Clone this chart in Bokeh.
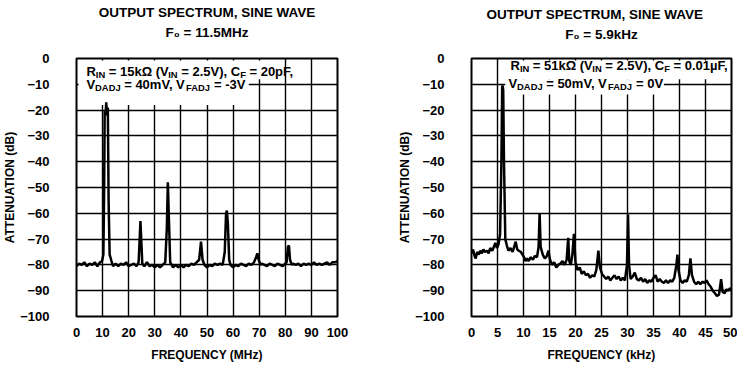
from bokeh.plotting import figure
from bokeh.models import Range1d, Label, Title, FixedTicker, LinearAxis
from bokeh.layouts import row
from bokeh.embed import file_html
from bokeh.resources import INLINE

FONT = "Liberation Sans"

# ---------------- data ----------------
y_ticks = [0, -10, -20, -30, -40, -50, -60, -70, -80, -90, -100]
left_x_ticks = [0, 10, 20, 30, 40, 50, 60, 70, 80, 90, 100]
right_x_ticks = [0, 5, 10, 15, 20, 25, 30, 35, 40, 45, 50]

left_freq = [0, 1, 2, 3, 4, 5, 6, 7, 8, 9, 9.8, 10.3, 10.6, 10.8, 11.1, 11.4, 11.7, 12.0, 12.3, 12.7,
             13.4, 14, 15, 16, 17, 18, 19, 20, 21, 22, 23, 23.8, 24.2, 24.5, 24.8, 25.2, 26, 27, 28,
             29, 30, 31, 32, 33, 34, 34.6, 35.0, 35.4, 35.9, 37, 38, 39, 40, 41, 42, 43, 44, 45, 46,
             47, 47.7, 48.3, 49, 50, 51, 52, 53, 54, 55, 56, 56.8, 57.3, 57.6, 58.0, 58.5, 59, 60,
             61, 62, 63, 64, 65, 66, 67, 68, 68.8, 69.3, 69.8, 70.5, 71, 72, 73, 74, 75, 76, 77, 78,
             79, 80.5, 81.0, 81.4, 81.8, 82.5, 83, 84, 85, 86, 87, 88, 89, 90, 91, 92, 93, 94, 95,
             96, 97, 98, 99, 100]
left_db = [-80.5, -79.5, -80.0, -79.0, -80.5, -79.5, -80.0, -79.0, -80.5, -79.0, -78.5, -76, -50,
           -20, -22, -17, -22, -19, -55, -76, -78.5, -80.5, -79.5, -80.5, -79.5, -80, -79, -80.5,
           -80, -79.5, -80.5, -79, -70, -63, -70, -79.5, -80.5, -79, -80.5, -80, -81, -80, -81, -80,
           -79, -66, -48, -62, -79, -81, -80, -81, -80, -81, -80, -80.5, -79.5, -80, -79, -78, -71,
           -78, -80, -81, -80, -80.5, -79.5, -80, -79.5, -80, -75, -60, -59, -64, -78, -80, -81,
           -80, -80.5, -79.5, -80, -80.5, -79.5, -80, -79, -77, -75.5, -78, -80, -79.5, -80, -80.5,
           -79.5, -80, -80.5, -79.5, -80, -80.5, -79, -73, -72.5, -78, -80, -79.5, -80, -79.5,
           -80.5, -79.5, -80, -79.5, -80, -79, -80, -79.5, -80, -79.5, -79, -80, -79, -79, -78.5]

right_freq = [0.0, 0.3, 0.6, 0.8, 1.1, 1.4, 1.7, 2.0, 2.3, 2.6, 3.0, 3.3, 3.6, 4.0, 4.3, 4.6, 4.9,
              5.2, 5.5, 5.75, 5.9, 6.0, 6.1, 6.25, 6.5, 6.8, 7.1, 7.5, 7.9, 8.2, 8.5, 8.8, 9.1, 9.5,
              9.8, 10.1, 10.4, 10.7, 11.0, 11.4, 11.8, 12.2, 12.6, 12.9, 13.1, 13.3, 13.7, 14.1,
              14.5, 14.8, 15.1, 15.5, 15.9, 16.3, 16.7, 17.1, 17.5, 17.9, 18.3, 18.6, 18.8, 19.1,
              19.4, 19.7, 20.0, 20.4, 20.8, 21.2, 21.6, 22.0, 22.4, 22.8, 23.2, 23.6, 24.0, 24.4,
              24.7, 25.1, 25.5, 25.9, 26.3, 26.7, 27.1, 27.5, 27.9, 28.3, 28.7, 29.1, 29.5, 29.9,
              30.1, 30.3, 30.6, 31.0, 31.4, 31.8, 32.2, 32.6, 33.0, 33.4, 33.8, 34.2, 34.6, 35.0,
              35.4, 35.8, 36.2, 36.6, 37.0, 37.4, 37.8, 38.2, 38.6, 39.0, 39.4, 39.6, 39.8, 40.2,
              40.6, 41.0, 41.4, 41.8, 42.1, 42.4, 42.8, 43.2, 43.6, 44.0, 44.4, 44.8, 45.2, 45.6,
              46.0, 46.4, 46.8, 47.2, 47.6, 48.0, 48.3, 48.7, 49.0, 49.4, 49.7, 50.0]
right_db = [-75.5, -74.0, -76.5, -77.5, -75.0, -76.0, -74.5, -75.5, -74.0, -75.0, -74.5, -75.5,
            -73.5, -74.5, -73.0, -71.5, -73.5, -72.0, -68.0, -40.0, -11.0, -10.5, -12.5, -40.0,
            -70.0, -72.5, -74.5, -73.5, -75.0, -73.0, -71.0, -74.0, -74.5, -75.0, -76.0, -77.0,
            -78.5, -77.5, -78.5, -77.0, -78.0, -76.5, -77.0, -73.0, -60.0, -73.0, -76.0, -77.5,
            -76.5, -74.5, -78.0, -80.0, -79.0, -81.0, -80.0, -79.5, -78.5, -80.0, -78.0, -69.5,
            -78.5, -80.0, -76.0, -68.0, -79.0, -82.0, -81.0, -83.5, -82.5, -84.0, -83.5, -85.0,
            -84.0, -84.5, -82.0, -74.5, -81.0, -83.5, -84.5, -85.5, -84.5, -86.0, -85.0, -84.0,
            -85.5, -84.5, -86.0, -85.0, -86.0, -80.0, -60.5, -80.0, -85.5, -84.5, -83.0, -85.5,
            -86.0, -85.0, -86.5, -85.5, -87.0, -86.0, -86.5, -85.0, -84.0, -86.5, -85.5, -86.5,
            -87.0, -86.0, -87.0, -86.0, -86.5, -85.0, -80.0, -76.0, -82.0, -86.0, -87.0, -86.0,
            -86.5, -84.0, -77.5, -84.0, -86.5, -87.5, -86.5, -87.5, -86.5, -87.0, -86.0, -87.5,
            -88.5, -90.0, -91.0, -92.0, -91.5, -85.5, -90.5, -91.0, -89.5, -90.0, -89.0, -90.0]

# ---------------- helpers ----------------
W = {' ': 278, '(': 333, ')': 333, ',': 278, '-': 333, '.': 278, '=': 584, 'A': 722, 'C': 722,
     'D': 722, 'F': 611, 'I': 278, 'J': 556, 'N': 722, 'R': 722, 'V': 667, 'f': 333, 'k': 556,
     'm': 889, 'p': 611, '\u03a9': 768, '\u00b5': 611}


def rich(p, x, y, segments, size=13):
    off = 0.0
    for txt, sub in segments:
        fs = size * 0.72 if sub else size
        p.add_layout(Label(x=x, y=y, x_offset=off, y_offset=-3 if sub else 0,
                           text=txt.replace(" ", "\u00a0"),
                           text_font=FONT, text_font_size=f"{fs:.1f}px", text_font_style="bold",
                           text_color="black", text_baseline="alphabetic", text_align="left"))
        off += sum(W.get(c, 556) for c in txt) * fs / 1000.0


def make_fig(width, borders, xmax, xticks, xlabel, line1, line2, sub_standoff, align, offset):
    bl, br, bt, bb = borders
    p = figure(width=width, height=368, x_range=Range1d(0, xmax), y_range=Range1d(-100, 0),
               output_backend="svg", toolbar_location=None,
               min_border_left=bl, min_border_right=br, min_border_top=bt, min_border_bottom=bb,
               background_fill_color="white", border_fill_color="white")
    p.outline_line_color = "black"
    p.outline_line_width = 2
    p.outline_line_alpha = 1
    p.xaxis.ticker = FixedTicker(ticks=xticks)
    p.yaxis.ticker = FixedTicker(ticks=y_ticks)
    p.xgrid.ticker = FixedTicker(ticks=xticks)
    p.ygrid.ticker = FixedTicker(ticks=y_ticks)
    for g in (p.xgrid, p.ygrid):
        g.grid_line_color = "black"
        g.grid_line_width = 1.4
        g.grid_line_alpha = 1
    for ax in (p.xaxis, p.yaxis):
        ax.axis_line_color = None
        ax.major_tick_line_color = None
        ax.minor_tick_line_color = None
        ax.major_label_text_font = FONT
        ax.major_label_text_font_size = "13px"
        ax.major_label_text_font_style = "bold"
        ax.major_label_text_color = "black"
        ax.axis_label_text_font = FONT
        ax.axis_label_text_font_size = "12px"
        ax.axis_label_text_font_style = "bold"
        ax.axis_label_text_color = "black"
    p.xaxis.axis_label = xlabel
    p.yaxis.axis_label = "ATTENUATION (dB)"
    p.xaxis.major_label_standoff = 5
    p.xaxis.axis_label_standoff = 8
    p.yaxis.major_label_standoff = 21
    p.yaxis.axis_label_standoff = 0
    # second heading line: label of an empty axis above the frame
    top_axis = LinearAxis(ticker=FixedTicker(ticks=[]), axis_label=line2,
                          axis_label_standoff=sub_standoff, axis_line_color=None,
                          major_tick_line_color=None, minor_tick_line_color=None,
                          major_label_text_font_size="0px",
                          axis_label_text_font=FONT, axis_label_text_font_size="13.5px",
                          axis_label_text_font_style="bold", axis_label_text_color="black")
    p.add_layout(top_axis, "above")
    p.add_layout(Title(text=line1, align=align, offset=offset, text_font=FONT,
                       text_font_size="13.5px", text_font_style="bold", text_color="black",
                       standoff=4), "above")
    return p


left = make_fig(372, (75, 35, 57, 51), 100, left_x_ticks, "FREQUENCY (MHz)",
                "OUTPUT SPECTRUM, SINE WAVE", "F\u2080 = 11.5MHz", 19, "center", 0)
right = make_fig(365, (99, 6, 55, 52), 50, right_x_ticks, "FREQUENCY (kHz)",
                 "OUTPUT SPECTRUM, SINE WAVE", "F\u2080 = 5.9kHz", 17, "left", 15)

# white areas behind the condition notes
left.quad(left=[0.8, 0.8], right=[79, 66], top=[-0.8, -8], bottom=[-8, -18],
          fill_color="white", line_color=None)
right.quad(left=[6.5, 6.5], right=[49.6, 37], top=[-0.8, -8], bottom=[-8, -14],
           fill_color="white", line_color=None)

left.line(left_freq, left_db, line_color="black", line_width=2.5)
right.line(right_freq, right_db, line_color="black", line_width=2.5)

rich(left, 3.8, -5.2, [("R", False), ("IN", True), (" = 15k\u03a9 (V", False), ("IN", True),
                       (" = 2.5V), C", False), ("F", True), (" = 20pF,", False)])
rich(left, 3.8, -10.2, [("V", False), ("DADJ", True), (" = 40mV, V", False), ("FADJ", True),
                        (" = -3V", False)])
rich(right, 7.5, -2.6, [("R", False), ("IN", True), (" = 51k\u03a9 (V", False), ("IN", True),
                        (" = 2.5V), C", False), ("F", True), (" = 0.01\u00b5F,", False)])
rich(right, 7.1, -9.8, [("V", False), ("DADJ", True), (" = 50mV, V", False), ("FADJ", True),
                        (" = 0V", False)])

layout = row(left, right)
open("out.html", "w").write(file_html(layout, INLINE))
